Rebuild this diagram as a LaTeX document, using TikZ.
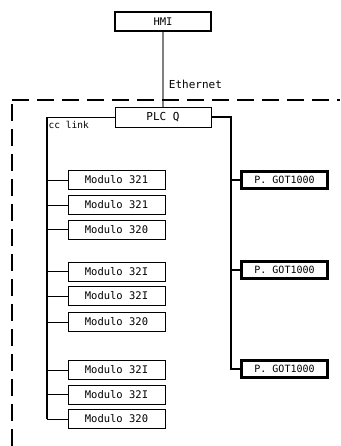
\documentclass[tikz,border=0pt]{standalone}
\usepackage{fontspec}
\setmonofont{DejaVu Sans Mono}
\begin{document}
\begin{tikzpicture}[x=1pt,y=-1pt,font=\ttfamily\fontsize{10.5}{12}\selectfont]
\tikzset{
  box/.style={draw, line width=0.9pt, inner sep=0pt, minimum width=97pt, minimum height=19pt},
  gotbox/.style={draw, line width=2.2pt, inner sep=0pt, minimum width=86pt, minimum height=17pt, font=\ttfamily\fontsize{10}{12}\selectfont},
  thin/.style={line width=0.9pt},
  thick bus/.style={line width=2.5pt},
  boundary/.style={line width=1.3pt, dash pattern=on 17pt off 8pt}
}
\fill[white] (0,0) rectangle (340,446);
\useasboundingbox (0,0) rectangle (340,446);

% top nodes
\node[box, line width=1.2pt, minimum width=96pt] (hmi) at (163,21.5) {HMI};
\node[box, minimum width=96pt, minimum height=20pt, font=\ttfamily\fontsize{11}{12}\selectfont] (plc) at (163,117) {PLC Q};

% ethernet
\draw[line width=1.2pt, gray] (hmi.south) -- (plc.north)
  node[pos=0.7, right=2pt, black, font=\ttfamily\fontsize{11}{12}\selectfont] (eth) {Ethernet};

% boundary
\draw[boundary] (12,100) -- (340,100);
\draw[boundary] (12,104) -- (12,446);

% modules
\node[box] (m1) at (116.5,180) {Modulo 321};
\node[box] (m2) at (116.5,205) {Modulo 321};
\node[box] (m3) at (116.5,229.5) {Modulo 320};
\node[box] (m4) at (116.5,271.5) {Modulo 32I};
\node[box] (m5) at (116.5,296) {Modulo 32I};
\node[box] (m6) at (116.5,322) {Modulo 320};
\node[box] (m7) at (116.5,370) {Modulo 32I};
\node[box] (m8) at (116.5,394.5) {Modulo 32I};
\node[box] (m9) at (116.5,419) {Modulo 320};

% GOTs
\node[gotbox] (g1) at (284.5,180) {P. GOT1000};
\node[gotbox] (g2) at (284.5,270) {P. GOT1000};
\node[gotbox] (g3) at (284.5,369) {P. GOT1000};

% cc link bus
\coordinate (ccb) at (47,117);
\coordinate (cce) at (47,419);
\draw[line width=1.4pt] (ccb) -- (cce);
\draw[thin] (plc.west) -- (ccb);
\draw[thin] (cce) -- (m9.west);
\foreach \m in {m1,m2,m3,m4,m5,m6,m7,m8}
  \draw[thin] (\m.west) -- (\m.west -| ccb);
\node[anchor=west, font=\ttfamily\fontsize{9.5}{10}\selectfont, inner sep=0pt] (cclabel) at (48.5,124.5) {cc link};

% GOT bus
\coordinate (gb) at (231,117);
\coordinate (ge) at (231,369);
\draw[thick bus, line join=miter] (plc.east) -- (gb) -- (ge) -- (g3.west);
\draw[thick bus] (g1.west) -- (g1.west -| gb);
\draw[thick bus] (g2.west) -- (g2.west -| gb);
\end{tikzpicture}
\end{document}
